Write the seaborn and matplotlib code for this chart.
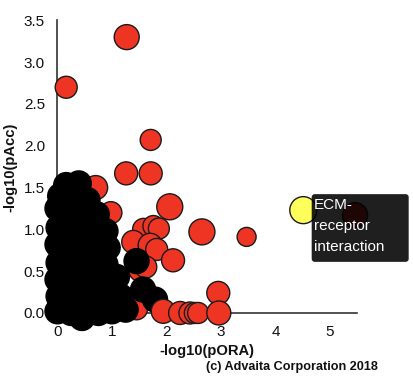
import numpy as np
import pandas as pd
import matplotlib
matplotlib.use('Agg')
import matplotlib.pyplot as plt
import matplotlib.transforms as mtransforms
from matplotlib.patches import FancyBboxPatch
from matplotlib.ticker import FixedLocator
import seaborn as sns

# 유의하지 않은 경로 (검정) / 유의한 경로 (빨강) / 선택된 경로 (노랑)
red_x = [1.27, 0.16, 1.71, 1.26, 1.71, 0.70, 0.98, 2.06, 2.65, 1.58, 1.76, 1.86,
         1.39, 1.70, 1.82, 2.12, 2.95, 3.47, 1.51, 1.62, 1.45, 5.46]
red_y = [3.30, 2.70, 2.07, 1.67, 1.67, 1.50, 1.20, 1.27, 0.97, 1.00, 1.04, 1.01,
         0.85, 0.81, 0.76, 0.63, 0.24, 0.91, 0.51, 0.55, 0.05, 1.17]
red_d = [25, 22, 21, 23, 23, 24, 22, 26, 26, 22, 21, 21,
         23, 24, 22, 23, 23, 19, 22, 22, 22, 25]

black_x = [0.16, 0.39, 0.05, 0.30, 0.55,
           0.00, 0.25, 0.50, 0.72,
           0.02, 0.30, 0.55, 0.88,
           0.00, 0.30, 0.60, 0.92,
           0.02, 0.30, 0.60, 0.88,
           0.00, 0.30, 0.60, 0.88, 1.09,
           0.02, 0.30, 0.60, 0.90, 1.15,
           0.00, 0.25, 0.45, 0.75, 1.00, 1.25,
           1.45, 1.57, 1.79]
black_y = [1.53, 1.55, 1.40, 1.42, 1.35,
           1.25, 1.22, 1.20, 1.18,
           1.02, 1.00, 1.00, 0.98,
           0.82, 0.80, 0.80, 0.78,
           0.60, 0.62, 0.60, 0.58,
           0.40, 0.40, 0.40, 0.38, 0.43,
           0.20, 0.20, 0.20, 0.18, 0.20,
           0.02, 0.00, -0.06, 0.00, 0.02, 0.04,
           0.62, 0.28, 0.16]
black_d = [25] * len(black_x)

# 아래쪽 줄 (검정 위에 그려짐)
front_x = [1.94, 2.25, 2.43, 2.52, 2.58, 2.96]
front_y = [0.02, 0.00, 0.00, 0.00, 0.00, 0.00]
front_d = [24, 23, 22, 21, 21, 24]

sel_x = [4.51]
sel_y = [1.23]
sel_d = [27]
sel_name = 'ECM-\nreceptor\ninteraction'

df = pd.concat([
    pd.DataFrame({'x': red_x, 'y': red_y, 'd': red_d, 'grp': 'sig'}),
    pd.DataFrame({'x': black_x, 'y': black_y, 'd': black_d, 'grp': 'ns'}),
    pd.DataFrame({'x': front_x, 'y': front_y, 'd': front_d, 'grp': 'sig'}),
    pd.DataFrame({'x': sel_x, 'y': sel_y, 'd': sel_d, 'grp': 'sel'}),
], ignore_index=True)
# 지름(px) -> 면적(pt^2)
df['s'] = (df['d'] * 0.72) ** 2
edge = np.where(df['grp'] == 'ns', '#000000', '#1a1a1a')

sns.set_style('white')
plt.rcParams['font.family'] = ['Liberation Sans', 'DejaVu Sans']

fig = plt.figure(figsize=(4.13, 3.77), dpi=100)
ax = fig.add_axes([0, 0, 1, 1])
ax.set_xlim(-1.055, 6.523)
ax.set_ylim(-0.766, 3.744)

sns.scatterplot(data=df, x='x', y='y', hue='grp',
                palette={'sig': '#EE3524', 'ns': '#000000', 'sel': '#FFFF5C'},
                s=df['s'].values, edgecolor=list(edge), linewidth=1.0,
                legend=False, ax=ax, zorder=3)

for side in ['top', 'right']:
    ax.spines[side].set_visible(False)
ax.spines['left'].set_position(('data', 0))
ax.spines['bottom'].set_position(('data', 0))
ax.spines['left'].set_bounds(0, 3.5)
ax.spines['bottom'].set_bounds(0, 5.5)
for side in ['left', 'bottom']:
    ax.spines[side].set_color('#333333')
    ax.spines[side].set_linewidth(1.2)

ax.set_xticks([0, 1, 2, 3, 4, 5])
ax.set_xticklabels(['0', '1', '2', '3', '4', '5'])
ax.xaxis.set_minor_locator(FixedLocator([5.5]))
yt = [0, 0.5, 1.0, 1.5, 2.0, 2.5, 3.0, 3.5]
ax.set_yticks(yt)
ax.set_yticklabels([f'{v:.1f}' for v in yt])
ax.tick_params(which='both', direction='out', length=6, width=1.2, color='#333333',
               labelsize=11, labelcolor='#111111', pad=3)
ax.set_xlabel('')
ax.set_ylabel('')
ax.grid(False)

fig.text(0.501, 0.069, '-log10(pORA)', ha='center', va='center',
         fontsize=10.6, fontweight='bold', color='#111111')
fig.text(0.026, 0.557, '-log10(pAcc)', ha='center', va='center', rotation=90,
         fontsize=10.6, fontweight='bold', color='#111111')
fig.text(0.708, 0.027, '(c) Advaita Corporation 2018', ha='center', va='center',
         fontsize=9.1, fontweight='bold', color='#111111')

# 툴팁 (선택된 점 기준, 인치 단위 오프셋)
tt = fig.dpi_scale_trans + mtransforms.ScaledTranslation(sel_x[0], sel_y[0], ax.transData)
box = FancyBboxPatch((0.084, -0.517), 0.97, 0.677,
                     boxstyle='round,pad=0,rounding_size=0.03',
                     transform=tt, facecolor='black', edgecolor='none',
                     alpha=0.88, zorder=5, clip_on=False)
ax.add_patch(box)
ax.text(0.108, 0.125, sel_name, transform=tt, ha='left', va='top',
        color='white', fontsize=11, linespacing=1.65, zorder=6)

fig.savefig('out.png', dpi=100)
